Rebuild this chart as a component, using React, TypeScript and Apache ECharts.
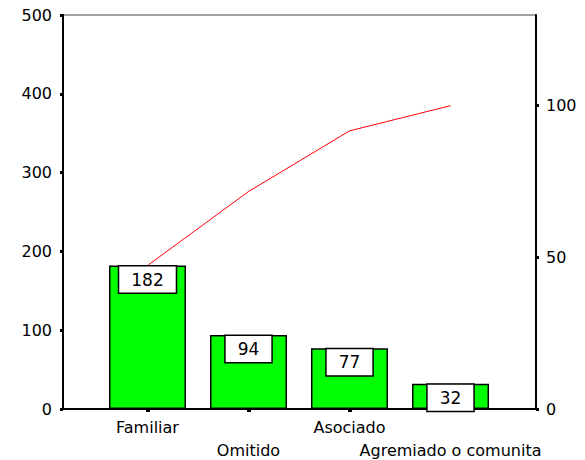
import React, { useEffect, useRef } from 'react';
import * as echarts from 'echarts';

const categories = ['Familiar', 'Omitido', 'Asociado', 'Agremiado o comunita'];
const counts = [182, 94, 77, 32];
const cumulativePercent = [47.3, 71.7, 91.7, 100];
const leftMax = 500;
const leftInterval = 100;
const rightMax = 129.9;
const rightTicks = [0, 50, 100];

export default function App() {
  const ref = useRef<HTMLDivElement>(null);
  useEffect(() => {
    const chart = echarts.init(ref.current!, null, { renderer: 'svg' });
    const font = 'DejaVu Sans';
    const black = '#000';
    const catLabel = { interval: 0, lineHeight: 16, fontSize: 16, fontFamily: font, color: black };
    chart.setOption({
      animation: false,
      backgroundColor: '#fff',
      grid: [
        { left: 63, right: 49, top: 15, bottom: 51, show: true, borderColor: '#444', borderWidth: 1, containLabel: false, outerBoundsMode: 'none' },
        { left: 97, right: 84, top: 15, bottom: 51, containLabel: false, outerBoundsMode: 'none' },
      ],
      xAxis: [
        {
          gridIndex: 0, type: 'value', min: 0, max: 1,
          axisLine: { show: true, onZero: false, lineStyle: { color: black, width: 2 } },
          axisTick: { show: false }, axisLabel: { show: false }, splitLine: { show: false },
        },
        {
          gridIndex: 1, type: 'category', position: 'bottom', data: categories,
          axisLine: { show: false },
          axisTick: { show: true, alignWithLabel: true, length: 3, lineStyle: { color: black, width: 4 } },
          axisLabel: { ...catLabel, margin: 10, formatter: (v: string, i: number) => (i % 2 ? '' : v) },
        },
        {
          gridIndex: 1, type: 'category', position: 'bottom', data: categories,
          axisLine: { show: false }, axisTick: { show: false },
          axisLabel: { ...catLabel, margin: 33, formatter: (v: string, i: number) => (i % 2 ? v : '') },
        },
      ],
      yAxis: [
        {
          gridIndex: 0, type: 'value', position: 'left', min: 0, max: leftMax, interval: leftInterval,
          axisLine: { show: true, lineStyle: { color: black, width: 2 } },
          axisTick: { show: true, length: 3, lineStyle: { color: black, width: 3 } },
          axisLabel: { margin: 11, fontSize: 16, fontFamily: font, color: black },
          splitLine: { show: false },
        },
        {
          gridIndex: 0, type: 'value', position: 'right', min: 0, max: rightMax,
          axisLine: { show: true, lineStyle: { color: black, width: 2 } },
          axisTick: { show: true, length: 3, customValues: rightTicks, lineStyle: { color: black, width: 3 } },
          axisLabel: { margin: 10, fontSize: 16, fontFamily: font, color: black, customValues: rightTicks },
          splitLine: { show: false },
        },
        { gridIndex: 1, type: 'value', min: 0, max: leftMax, show: false },
        { gridIndex: 1, type: 'value', min: 0, max: rightMax, show: false },
      ],
      series: [
        {
          type: 'bar', xAxisIndex: 1, yAxisIndex: 2, data: counts, barWidth: 77,
          itemStyle: { color: '#00ff00', borderColor: black, borderWidth: 1.5 },
          label: {
            show: true, position: 'insideTop', distance: 1,
            backgroundColor: '#fff', borderColor: black, borderWidth: 1.5,
            padding: [4, 12], lineHeight: 18, fontSize: 17, fontFamily: font, color: black,
          },
          z: 2,
        },
        {
          type: 'line', xAxisIndex: 1, yAxisIndex: 3, data: cumulativePercent,
          symbol: 'none', lineStyle: { color: '#ff0000', width: 1 }, z: 1,
        },
      ],
    });
    return () => chart.dispose();
  }, []);
  return <div ref={ref} style={{ position: 'fixed', left: 0, top: 0, width: 585, height: 460, background: '#fff' }} />;
}
